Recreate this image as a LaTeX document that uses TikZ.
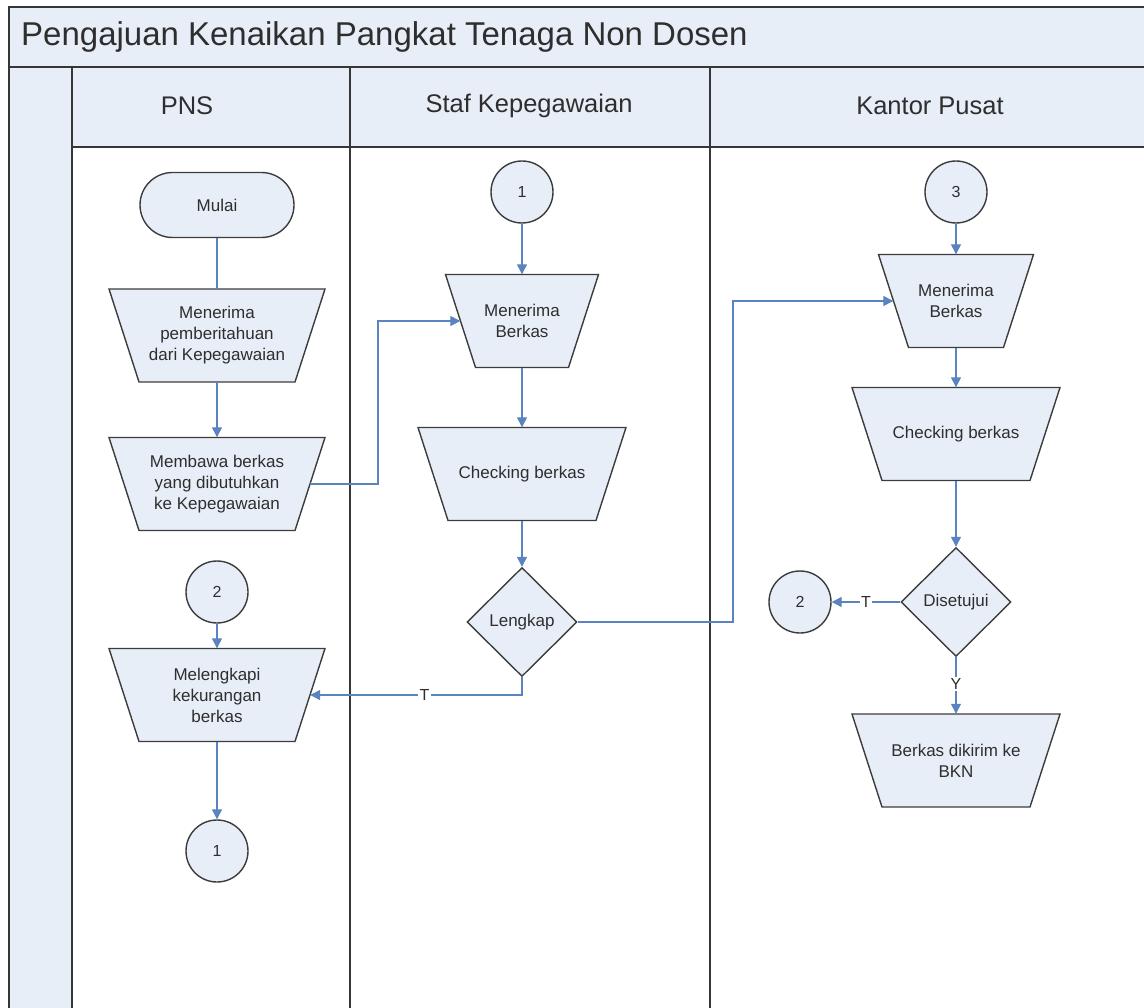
\documentclass[tikz,border=0pt]{standalone}
\usepackage{fontspec}
\setmainfont{Liberation Sans}
\usetikzlibrary{shapes.geometric,shapes.misc,arrows.meta}

\definecolor{shapefill}{HTML}{E8EEF8}
\definecolor{laneline}{HTML}{363636}
\definecolor{shapeline}{HTML}{3C3C3C}
\definecolor{flow}{HTML}{5A83BF}
\definecolor{txt}{HTML}{2E2E2E}

\tikzset{
  laneborder/.style={draw=laneline, line width=1.6pt},
  shp/.style={draw=shapeline, fill=shapefill, line width=1.4pt},
  nodetext/.style={text=txt, font=\fontsize{17}{21}\selectfont, align=center},
  trapin/.style={nodetext, draw=none, fill=none, shape=rectangle, minimum height=93, inner sep=0},
  term/.style={shp, nodetext, rounded rectangle, minimum width=154, minimum height=65, inner sep=0},
  conn/.style={shp, circle, minimum size=62, inner sep=0, text=txt, font=\fontsize{16}{19}\selectfont},
  decision/.style={shp, nodetext, diamond, minimum width=110, minimum height=109, inner sep=0},
  flowline/.style={draw=flow, line width=1.3pt},
  flowarrow/.style={flowline, -{Triangle[length=10pt,width=10pt]}},
  lbl/.style={fill=white, inner sep=1.5pt, text=txt, font=\fontsize{16}{18}\selectfont},
  lanehead/.style={text=txt, font=\fontsize{25.5}{30}\selectfont, inner sep=0},
}

% name, x, y, top width, text
\newcommand\trapshape[5]{%
  \filldraw[shp] (#2-#4/2,#3-46.5) -- (#2+#4/2,#3-46.5) -- (#2+#4/2-30,#3+46.5) -- (#2-#4/2+30,#3+46.5) -- cycle;
  \node[trapin, minimum width=#4-30] (#1) at (#2,#3) {#5};
}

\begin{document}
\begin{tikzpicture}[x=1pt,y=-1pt]
\useasboundingbox (0,0) rectangle (1144,1008);

% ---- pool and lanes ----
\fill[shapefill] (9,7) rectangle (1150,67);
\fill[shapefill] (72,67) rectangle (1150,147);
\fill[shapefill] (9,67) rectangle (72,1015);
\draw[laneborder] (9,7) rectangle (1150,1015);
\draw[laneborder] (9,67) -- (1150,67);
\draw[laneborder] (72,147) -- (1150,147);
\draw[laneborder] (72,67) -- (72,1015);
\draw[laneborder] (350,67) -- (350,1015);
\draw[laneborder] (710,67) -- (710,1015);

\node[anchor=west, inner sep=0, text=txt, font=\fontsize{33}{38}\selectfont] (title) at (21,37) {Pengajuan Kenaikan Pangkat Tenaga Non Dosen};
\node[lanehead] (hpns) at (187,106) {PNS};
\node[lanehead] (hstaf) at (529,106) {Staf Kepegawaian};
\node[lanehead] (hkp) at (930,106) {Kantor Pusat};

% ---- PNS lane ----
\node[term] (mulai) at (217,205) {Mulai};
\trapshape{p2}{217}{335.5}{216}{Menerima\\pemberitahuan\\dari Kepegawaian}
\trapshape{p3}{217}{484}{216}{Membawa berkas\\yang dibutuhkan\\ke Kepegawaian}
\node[conn] (pc2) at (217,592) {2};
\trapshape{p5}{217}{695}{216}{Melengkapi\\kekurangan\\berkas}
\node[conn] (pc1) at (217,851) {1};

% ---- Staf lane ----
\node[conn] (sc1) at (522,192) {1};
\trapshape{s2}{522}{321}{153}{Menerima\\Berkas}
\trapshape{s3}{522}{474}{208}{Checking berkas}
\node[decision] (lengkap) at (522,622) {Lengkap};

% ---- Kantor Pusat lane ----
\node[conn] (kc3) at (956,192) {3};
\trapshape{k2}{956}{301}{155}{Menerima\\Berkas}
\trapshape{k3}{956}{434}{208}{Checking berkas}
\node[decision] (dis) at (956,602) {Disetujui};
\node[conn] (kc2) at (800,602) {2};
\trapshape{k5}{956}{760.5}{208}{Berkas dikirim ke\\BKN}

% ---- helper coordinates ----
\coordinate (jA) at (378,400);
\coordinate (jB) at (733,450);

% ---- connectors ----
\draw[flowline] (mulai.south) -- (p2.north);
\draw[flowarrow] (p2.south) -- (p3.north);
\draw[flowarrow] (p3.east) -| (jA) |- (s2.west);
\draw[flowarrow] (pc2.south) -- (p5.north);
\draw[flowarrow] (p5.south) -- (pc1.north);

\draw[flowarrow] (sc1.south) -- (s2.north);
\draw[flowarrow] (s2.south) -- (s3.north);
\draw[flowarrow] (s3.south) -- (lengkap.north);
\draw[flowarrow] (lengkap.east) -| (jB) |- (k2.west);
\draw[flowarrow] (lengkap.south) |- node[lbl, pos=0.73] {T} (p5.east);

\draw[flowarrow] (kc3.south) -- (k2.north);
\draw[flowarrow] (k2.south) -- (k3.north);
\draw[flowarrow] (k3.south) -- (dis.north);
\draw[flowarrow] (dis.west) -- node[lbl, pos=0.5] {T} (kc2.east);
\draw[flowarrow] (dis.south) -- node[lbl, pos=0.47] {Y} (k5.north);
\end{tikzpicture}
\end{document}
